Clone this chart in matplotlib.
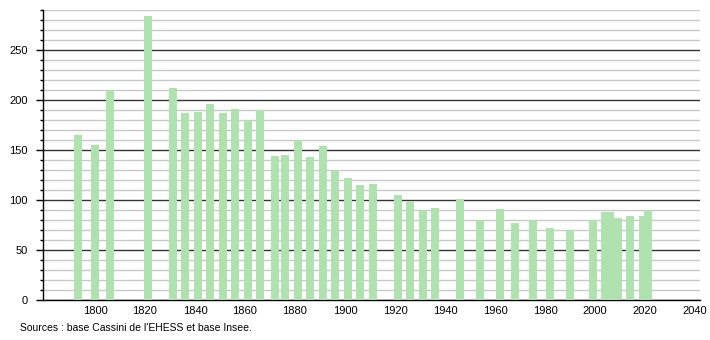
import matplotlib
matplotlib.use('Agg')
import matplotlib.pyplot as plt
from matplotlib.ticker import MultipleLocator

years = [1793, 1800, 1806, 1821, 1831, 1836, 1841, 1846, 1851, 1856,
         1861, 1866, 1872, 1876, 1881, 1886, 1891, 1896, 1901, 1906,
         1911, 1921, 1926, 1931, 1936, 1946, 1954, 1962, 1968, 1975,
         1982, 1990, 1999, 2004, 2006, 2009, 2014, 2019, 2021]
population = [165, 155, 210, 284, 212, 187, 188, 196, 187, 191,
              180, 190, 144, 145, 160, 143, 154, 130, 122, 115,
              116, 105, 98, 90, 92, 101, 80, 91, 77, 80,
              72, 70, 80, 88, 88, 82, 84, 84, 90]
xticks = list(range(1800, 2041, 20))
source = "Sources : base Cassini de l'EHESS et base Insee."

plt.rcParams['font.family'] = ['Liberation Sans', 'DejaVu Sans']

fig = plt.figure(figsize=(7.1, 3.4), dpi=100)
ax = fig.add_axes([43 / 710, 40 / 340, 657 / 710, 290 / 340])

ax.bar(years, population, width=3.2, color='#b0e2b0', zorder=3)

ax.set_xlim(1779.2, 2042)
ax.set_ylim(0, 290)
ax.yaxis.set_major_locator(MultipleLocator(50))
ax.yaxis.set_minor_locator(MultipleLocator(10))
ax.set_xticks(xticks)
ax.grid(axis='y', which='minor', color='#c8c8c8', linewidth=1, zorder=1)
ax.grid(axis='y', which='major', color='#333333', linewidth=1, zorder=2)

for s in ['top', 'right']:
    ax.spines[s].set_visible(False)
ax.spines['left'].set_linewidth(1)
ax.spines['bottom'].set_linewidth(1)

ax.tick_params(axis='y', which='major', length=5, width=1, labelsize=8, pad=6)
ax.tick_params(axis='y', which='minor', length=2.5, width=1)
ax.tick_params(axis='x', length=0, labelsize=8, pad=4)

fig.text(20 / 710, 1 - 328 / 340, source, fontsize=7.5, va='center', ha='left')

fig.savefig('out.png', dpi=100)
